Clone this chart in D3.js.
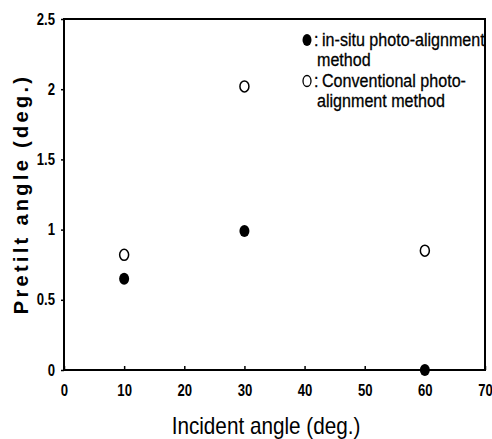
<!DOCTYPE html>
<html><head><meta charset="utf-8">
<script src="https://cdn.jsdelivr.net/npm/d3@7"></script>
<style>body{margin:0;background:#fff}</style>
</head><body>
<svg id="c" width="492" height="439"></svg>
<script>
const xTicks = [0,10,20,30,40,50,60,70];
const yTicks = [0,0.5,1,1.5,2,2.5];
const yTickLabels = ["0","0.5","1","1.5","2","2.5"];
const inSituX = [10,30,60];
const inSituY = [0.65,0.99,0.0];
const convX = [10,30,60];
const convY = [0.82,2.02,0.85];
const legendText = [":","in-situ photo-alignment","method",":","Conventional photo-","alignment method"];

const svg = d3.select("#c");
const L=64,R=485,T=19,B=370;
const x = d3.scaleLinear().domain([0,70]).range([L,R]);
const y = d3.scaleLinear().domain([0,2.5]).range([B,T]);
const ff = "'Liberation Sans',Arial,sans-serif";
const tf = 0.82;

// frame
svg.append("rect").attr("x",L).attr("y",T).attr("width",R-L).attr("height",B-T)
  .attr("fill","none").attr("stroke","#000").attr("stroke-width",2);

// x axis
const gx = svg.append("g").attr("transform",`translate(0,${B})`)
  .call(d3.axisBottom(x).tickValues(xTicks).tickSize(-4).tickPadding(15).tickFormat(d3.format("d")));
gx.select(".domain").remove();
gx.selectAll("line").attr("stroke","#000").attr("stroke-width",1.5);
gx.selectAll("text").attr("font-family",ff).attr("font-weight","bold").attr("font-size",16).attr("fill","#000")
  .attr("transform",`scale(${tf},1)`);

// y axis
const gy = svg.append("g").attr("transform",`translate(${L},0)`)
  .call(d3.axisLeft(y).tickValues(yTicks).tickSize(3).tickPadding(7).tickFormat((d,i)=>yTickLabels[i]));
gy.select(".domain").remove();
gy.selectAll("line").attr("stroke","#000").attr("stroke-width",1.5);
gy.selectAll("text").attr("font-family",ff).attr("font-weight","bold").attr("font-size",16).attr("fill","#000")
  .attr("x",-9/tf).attr("transform",`scale(${tf},1)`);

// titles
svg.append("text").attr("transform","translate(266,434) scale(0.9,1)").attr("text-anchor","middle")
  .attr("font-family",ff).attr("font-size",23).attr("fill","#000").text("Incident angle (deg.)");
svg.append("text").attr("transform","translate(28,194) rotate(-90)").attr("text-anchor","middle")
  .attr("font-family",ff).attr("font-weight","bold")
  .attr("font-size",20).attr("letter-spacing",3.3).attr("fill","#000").text("Pretilt angle (deg.)");

// points
svg.append("g").selectAll("ellipse").data(convX.map((d,i)=>[d,convY[i]])).join("ellipse")
  .attr("cx",d=>x(d[0])).attr("cy",d=>y(d[1])).attr("rx",4.5).attr("ry",5.5)
  .attr("fill","#fff").attr("stroke","#000").attr("stroke-width",1.5);
svg.append("g").selectAll("ellipse").data(inSituX.map((d,i)=>[d,inSituY[i]])).join("ellipse")
  .attr("cx",d=>x(d[0])).attr("cy",d=>y(d[1])).attr("rx",5).attr("ry",6)
  .attr("fill","#000");

// legend
const lg = svg.append("g");
lg.append("ellipse").attr("cx",307).attr("cy",40).attr("rx",4.5).attr("ry",6).attr("fill","#000");
lg.append("ellipse").attr("cx",307).attr("cy",81).attr("rx",4).attr("ry",5.5).attr("fill","#fff").attr("stroke","#000").attr("stroke-width",1.3);
const lxx = [314,322,317,314,322,317];
const lyy = [46,46,66,87,87,107];
lg.selectAll("text").data(legendText).join("text")
  .attr("transform",(d,i)=>`translate(${lxx[i]},${lyy[i]}) scale(0.87,1)`)
  .attr("font-family",ff).attr("font-size",18.5).attr("fill","#000")
  .attr("stroke","#000").attr("stroke-width",0.3).text(d=>d);
</script>
</body></html>
